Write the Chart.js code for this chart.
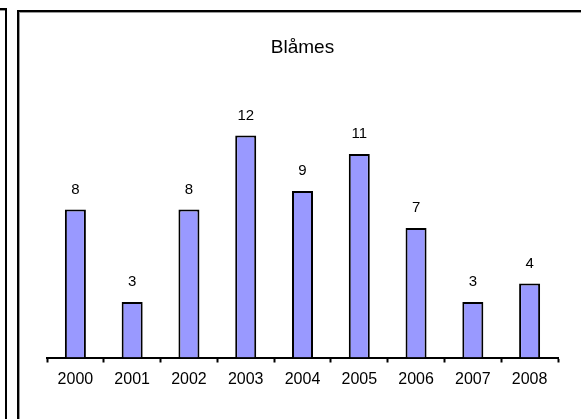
<!DOCTYPE html>
<html lang="en">
<head>
  <meta charset="UTF-8">
  <title>Blåmes</title>
  <style>
    body {
      margin: 0;
      width: 581px;
      height: 419px;
      overflow: hidden;
      background: #fff;
      position: relative;
    }
    .frame {
      position: absolute;
      border: 2px solid #000;
      box-shadow: inset 1px 1px 0 #999;
      box-sizing: border-box;
    }
    #prev { left: -200px; top: 8px; width: 207px; height: 600px; }
    #main { left: 17px; top: 10px; width: 700px; height: 600px; }
    #wrap {
      position: absolute;
      left: 20px;
      top: 13px;
      width: 561px;
      height: 406px;
    }
  </style>
</head>
<body>
  <div class="frame" id="prev"></div>
  <div class="frame" id="main"></div>
  <div id="wrap"><canvas id="chart"></canvas></div>

  <script src="https://cdn.jsdelivr.net/npm/chart.js"></script>
  <script>
    const years = ['2000', '2001', '2002', '2003', '2004', '2005', '2006', '2007', '2008'];
    const counts = [8, 3, 8, 12, 9, 11, 7, 3, 4];
    const chartTitle = 'Blåmes';

    // tall over hver søyle
    const barLabels = {
      id: 'barLabels',
      afterDatasetsDraw(chart) {
        const ctx = chart.ctx;
        const meta = chart.getDatasetMeta(0);
        ctx.save();
        ctx.font = '15px "Liberation Sans", Arial, sans-serif';
        ctx.fillStyle = '#000';
        ctx.textAlign = 'center';
        ctx.textBaseline = 'middle';
        meta.data.forEach((bar, i) => {
          ctx.fillText(counts[i], bar.x, bar.y - 20);
        });
        ctx.restore();
      }
    };

    new Chart(document.getElementById('chart'), {
      type: 'bar',
      data: {
        labels: years,
        datasets: [{
          data: counts,
          backgroundColor: '#9999ff',
          borderColor: '#000',
          borderWidth: 2,
          borderSkipped: 'bottom',
          categoryPercentage: 1,
          barPercentage: 0.37
        }]
      },
      options: {
        responsive: true,
        maintainAspectRatio: false,
        animation: false,
        layout: { padding: { left: 27, right: 23, top: 0, bottom: 0 } },
        plugins: {
          legend: { display: false },
          tooltip: { enabled: false },
          title: {
            display: true,
            text: chartTitle,
            color: '#000',
            font: { family: '"Liberation Sans", Arial, sans-serif', size: 19, weight: 'normal' },
            padding: { top: 23.6, bottom: 39.1 }
          }
        },
        scales: {
          x: {
            offset: true,
            grid: {
              offset: true,
              display: true,
              drawOnChartArea: false,
              drawTicks: true,
              tickLength: 5,
              tickWidth: 2,
              tickColor: '#000'
            },
            border: { display: true, color: '#000', width: 2 },
            ticks: {
              color: '#000',
              padding: 7,
              maxRotation: 0,
              font: { family: '"Liberation Sans", Arial, sans-serif', size: 16 }
            },
            afterFit(scale) { scale.height = 61.5; }
          },
          y: {
            display: false,
            min: 0,
            max: 14
          }
        }
      },
      plugins: [barLabels]
    });
  </script>
</body>
</html>
